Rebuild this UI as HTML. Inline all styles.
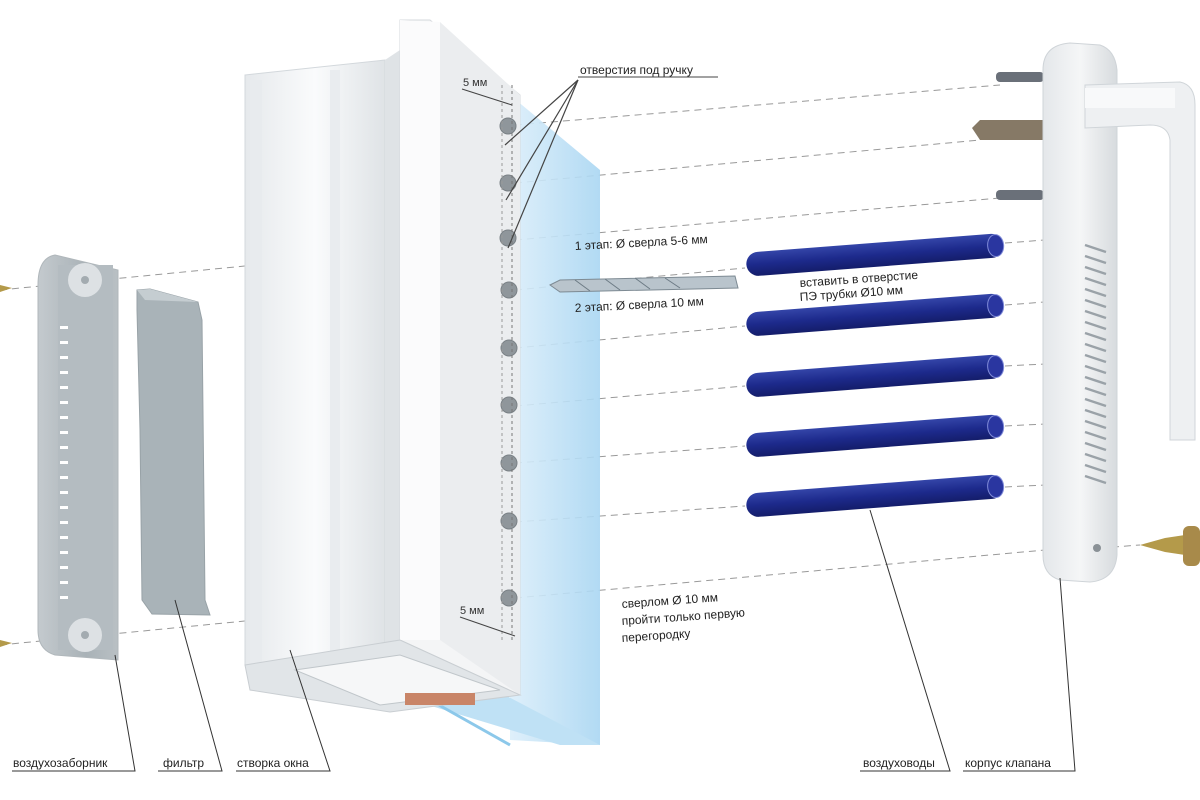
<!DOCTYPE html>
<html><head><meta charset="utf-8"><style>
html,body{margin:0;padding:0;background:#fff;}
svg{display:block;font-family:"Liberation Sans",sans-serif;}
</style></head><body>
<svg width="1200" height="800" viewBox="0 0 1200 800" xmlns="http://www.w3.org/2000/svg">
<defs>
<linearGradient id="glass" x1="0" x2="1"><stop offset="0" stop-color="#dbeefa"/><stop offset="1" stop-color="#a9d6f2"/></linearGradient>
<linearGradient id="prof" x1="0" x2="1"><stop offset="0" stop-color="#e6e9ec"/><stop offset="0.5" stop-color="#fafbfc"/><stop offset="1" stop-color="#dfe3e6"/></linearGradient>
<linearGradient id="gray" x1="0" x2="1"><stop offset="0" stop-color="#c4cace"/><stop offset="0.6" stop-color="#a9b2b7"/><stop offset="1" stop-color="#b9c0c4"/></linearGradient>
<linearGradient id="tube" x1="0" y1="0" x2="0" y2="1"><stop offset="0" stop-color="#3445a8"/><stop offset="0.5" stop-color="#1d2a8c"/><stop offset="1" stop-color="#141d6a"/></linearGradient>
<linearGradient id="hand" x1="0" x2="1"><stop offset="0" stop-color="#e4e7ea"/><stop offset="0.5" stop-color="#f5f6f7"/><stop offset="1" stop-color="#d7dbde"/></linearGradient>
</defs>

<!-- dashed lines -->
<g stroke="#999" stroke-width="1" stroke-dasharray="7,5" fill="none">
<line x1="0" y1="290" x2="255" y2="265"/>
<line x1="0" y1="645" x2="255" y2="620"/>
<line x1="515" y1="125" x2="1000" y2="85"/>
<line x1="515" y1="183" x2="980" y2="140"/>
<line x1="515" y1="240" x2="1000" y2="198"/>
<line x1="515" y1="290" x2="745" y2="268"/>
<line x1="515" y1="348" x2="745" y2="326"/>
<line x1="515" y1="406" x2="745" y2="386"/>
<line x1="515" y1="463" x2="745" y2="446"/>
<line x1="515" y1="522" x2="745" y2="506"/>
<line x1="515" y1="598" x2="1045" y2="550"/>
<line x1="1005" y1="243" x2="1045" y2="240"/>
<line x1="1005" y1="305" x2="1045" y2="302"/>
<line x1="1005" y1="366" x2="1045" y2="364"/>
<line x1="1005" y1="426" x2="1045" y2="424"/>
<line x1="1005" y1="487" x2="1045" y2="485"/>
<line x1="1100" y1="548" x2="1140" y2="545"/>
</g>

<!-- glass -->
<polygon points="510,95 600,170 600,745 510,740" fill="url(#glass)" opacity="0.9"/>
<polygon points="395,695 505,695 600,745 560,745" fill="#bfe1f5"/>
<line x1="430" y1="700" x2="510" y2="745" stroke="#8cc8ea" stroke-width="3"/>

<!-- window sash profile -->
<polygon points="245,75 385,60 385,690 245,665" fill="url(#prof)" stroke="#d3d8dc"/>
<rect x="250" y="80" width="12" height="590" fill="#e8ebee"/>
<rect x="330" y="70" width="10" height="610" fill="#e9ecef"/>
<polygon points="385,60 400,50 400,690 385,690" fill="#dfe3e6"/>
<polygon points="400,20 430,20 520,95 520,695 400,640" fill="#f4f5f6" stroke="#d6dadd"/>
<polygon points="400,20 440,22 440,640 400,640" fill="#fbfbfc"/>
<polygon points="440,22 520,95 520,695 440,640" fill="#ebedef"/>
<polygon points="245,665 400,640 520,695 390,712 250,690" fill="#e1e5e8" stroke="#c9ced2"/>
<polygon points="295,670 400,655 500,690 380,705" fill="#f6f7f8" stroke="#c0c6ca"/>
<rect x="405" y="693" width="70" height="12" fill="#c98568"/>

<!-- holes -->
<g fill="#8f969b" stroke="#7a8186">
<circle cx="508" cy="126" r="8"/><circle cx="508" cy="183" r="8"/><circle cx="508" cy="238" r="8"/>
<circle cx="509" cy="290" r="8"/><circle cx="509" cy="348" r="8"/><circle cx="509" cy="405" r="8"/>
<circle cx="509" cy="463" r="8"/><circle cx="509" cy="521" r="8"/><circle cx="509" cy="598" r="8"/>
</g>
<line x1="512" y1="85" x2="512" y2="640" stroke="#777" stroke-dasharray="3,3"/>
<line x1="502" y1="85" x2="502" y2="640" stroke="#999" stroke-dasharray="3,3"/>

<!-- annotations top -->
<text x="463" y="86" font-size="11" fill="#333">5 мм</text>
<line x1="462" y1="89" x2="512" y2="105" stroke="#444"/>
<text x="580" y="74" font-size="12" fill="#222">отверстия под ручку</text>
<line x1="578" y1="77" x2="718" y2="77" stroke="#444"/>
<g stroke="#444" stroke-width="1.2"><line x1="578" y1="80" x2="505" y2="145"/><line x1="578" y1="80" x2="506" y2="200"/><line x1="578" y1="80" x2="508" y2="248"/></g>
<text x="460" y="614" font-size="11" fill="#333">5 мм</text>
<line x1="460" y1="617" x2="515" y2="636" stroke="#444"/>

<!-- drill -->
<polygon points="550,285 560,280 735,276 738,288 560,292" fill="#b9c4cc" stroke="#7d8a93"/>
<g stroke="#6d7b85"><line x1="575" y1="280" x2="590" y2="291"/><line x1="605" y1="279" x2="620" y2="290"/><line x1="635" y1="278" x2="650" y2="289"/><line x1="665" y1="278" x2="680" y2="288"/></g>
<text x="575" y="250" font-size="12" fill="#222" transform="rotate(-3 575 250)">1 этап: Ø сверла 5-6 мм</text>
<text x="575" y="312" font-size="12" fill="#222" transform="rotate(-3 575 312)">2 этап: Ø сверла 10 мм</text>

<!-- tubes -->
<g>
<g transform="rotate(-4.4 873 255)"><rect x="746" y="243" width="258" height="24" rx="12" fill="url(#tube)"/><ellipse cx="996" cy="255" rx="8" ry="11" fill="#2a36a0" stroke="#7f8ad8"/></g>
<g transform="rotate(-4.4 873 315)"><rect x="746" y="303" width="258" height="24" rx="12" fill="url(#tube)"/><ellipse cx="996" cy="315" rx="8" ry="11" fill="#2a36a0" stroke="#7f8ad8"/></g>
<g transform="rotate(-4.4 873 376)"><rect x="746" y="364" width="258" height="24" rx="12" fill="url(#tube)"/><ellipse cx="996" cy="376" rx="8" ry="11" fill="#2a36a0" stroke="#7f8ad8"/></g>
<g transform="rotate(-4.4 873 436)"><rect x="746" y="424" width="258" height="24" rx="12" fill="url(#tube)"/><ellipse cx="996" cy="436" rx="8" ry="11" fill="#2a36a0" stroke="#7f8ad8"/></g>
<g transform="rotate(-4.4 873 496)"><rect x="746" y="484" width="258" height="24" rx="12" fill="url(#tube)"/><ellipse cx="996" cy="496" rx="8" ry="11" fill="#2a36a0" stroke="#7f8ad8"/></g>
</g>
<text x="800" y="287" font-size="12" fill="#222" transform="rotate(-4 800 287)">вставить в отверстие</text>
<text x="800" y="301" font-size="12" fill="#222" transform="rotate(-4 800 301)">ПЭ трубки Ø10 мм</text>

<text x="622" y="608" font-size="12" fill="#222" transform="rotate(-4 622 608)">сверлом Ø 10 мм</text>
<text x="622" y="625" font-size="12" fill="#222" transform="rotate(-4 622 625)">пройти только первую</text>
<text x="622" y="642" font-size="12" fill="#222" transform="rotate(-4 622 642)">перегородку</text>

<!-- screws right -->
<rect x="996" y="72" width="48" height="10" rx="4" fill="#6a7079"/>
<polygon points="972,128 980,120 1044,120 1044,140 980,140" fill="#867966"/>
<rect x="996" y="190" width="48" height="10" rx="4" fill="#6a7079"/>
<polygon points="1140,545 1165,538 1185,535 1185,555 1165,552" fill="#b49a4a"/>
<rect x="1183" y="526" width="17" height="40" rx="6" fill="#a88a4a"/>

<!-- handle body -->
<path d="M1043,70 Q1043,45 1070,43 L1100,45 Q1115,50 1117,70 L1117,555 Q1115,580 1090,582 L1060,580 Q1043,575 1043,555 Z" fill="url(#hand)" stroke="#cfd4d8"/>
<path d="M1085,85 L1180,82 Q1195,85 1195,105 L1195,440 L1170,440 L1170,140 Q1168,125 1150,125 L1085,128 Z" fill="#eef0f2" stroke="#d0d5d9"/>
<rect x="1085" y="88" width="90" height="20" fill="#f8f9fa"/>
<g stroke="#9aa2a8" stroke-width="2.5">
<line x1="1085" y1="245" x2="1106" y2="252"/><line x1="1085" y1="256" x2="1106" y2="263"/><line x1="1085" y1="267" x2="1106" y2="274"/><line x1="1085" y1="278" x2="1106" y2="285"/><line x1="1085" y1="289" x2="1106" y2="296"/><line x1="1085" y1="300" x2="1106" y2="307"/><line x1="1085" y1="311" x2="1106" y2="318"/><line x1="1085" y1="322" x2="1106" y2="329"/><line x1="1085" y1="333" x2="1106" y2="340"/><line x1="1085" y1="344" x2="1106" y2="351"/><line x1="1085" y1="355" x2="1106" y2="362"/><line x1="1085" y1="366" x2="1106" y2="373"/><line x1="1085" y1="377" x2="1106" y2="384"/><line x1="1085" y1="388" x2="1106" y2="395"/><line x1="1085" y1="399" x2="1106" y2="406"/><line x1="1085" y1="410" x2="1106" y2="417"/><line x1="1085" y1="421" x2="1106" y2="428"/><line x1="1085" y1="432" x2="1106" y2="439"/><line x1="1085" y1="443" x2="1106" y2="450"/><line x1="1085" y1="454" x2="1106" y2="461"/><line x1="1085" y1="465" x2="1106" y2="472"/><line x1="1085" y1="476" x2="1106" y2="483"/>
</g>
<circle cx="1097" cy="548" r="4" fill="#8a9196"/>

<!-- air intake left -->
<polygon points="0,285 12,288 0,292" fill="#b49a4a"/>
<polygon points="0,640 12,643 0,647" fill="#b49a4a"/>
<path d="M55,255 L118,270 L118,660 L55,655 Q38,650 38,630 L38,285 Q38,258 55,255 Z" fill="url(#gray)" stroke="#b0b7bb"/>
<rect x="58" y="265" width="55" height="385" fill="#b4bcc1"/>
<ellipse cx="85" cy="280" rx="17" ry="17" fill="#dde1e4"/>
<ellipse cx="85" cy="635" rx="17" ry="17" fill="#dde1e4"/>
<circle cx="85" cy="280" r="4" fill="#a3abb0"/><circle cx="85" cy="635" r="4" fill="#a3abb0"/>
<g fill="#fff">
<rect x="60" y="326" width="8" height="3"/><rect x="60" y="341" width="8" height="3"/><rect x="60" y="356" width="8" height="3"/><rect x="60" y="371" width="8" height="3"/><rect x="60" y="386" width="8" height="3"/><rect x="60" y="401" width="8" height="3"/><rect x="60" y="416" width="8" height="3"/><rect x="60" y="431" width="8" height="3"/><rect x="60" y="446" width="8" height="3"/><rect x="60" y="461" width="8" height="3"/><rect x="60" y="476" width="8" height="3"/><rect x="60" y="491" width="8" height="3"/><rect x="60" y="506" width="8" height="3"/><rect x="60" y="521" width="8" height="3"/><rect x="60" y="536" width="8" height="3"/><rect x="60" y="551" width="8" height="3"/><rect x="60" y="566" width="8" height="3"/><rect x="60" y="581" width="8" height="3"/><rect x="60" y="596" width="8" height="3"/>
</g>

<!-- filter -->
<polygon points="137,290 150,289 198,302 202,320 205,600 210,615 152,614 142,600 140,430 137,310" fill="#a9b3b8" stroke="#98a2a7"/>
<polygon points="137,290 150,289 198,302 145,300" fill="#c5cdd1"/>

<!-- bottom labels -->
<g font-size="12" fill="#222">
<text x="13" y="767">воздухозаборник</text>
<text x="163" y="767">фильтр</text>
<text x="237" y="767">створка окна</text>
<text x="863" y="767">воздуховоды</text>
<text x="965" y="767">корпус клапана</text>
</g>
<g stroke="#333" fill="none" stroke-width="1">
<polyline points="12,771 135,771 115,655"/>
<polyline points="158,771 222,771 175,600"/>
<polyline points="236,771 330,771 290,650"/>
<polyline points="860,771 950,771 870,510"/>
<polyline points="963,771 1075,771 1060,578"/>
</g>
</svg>
</body></html>
